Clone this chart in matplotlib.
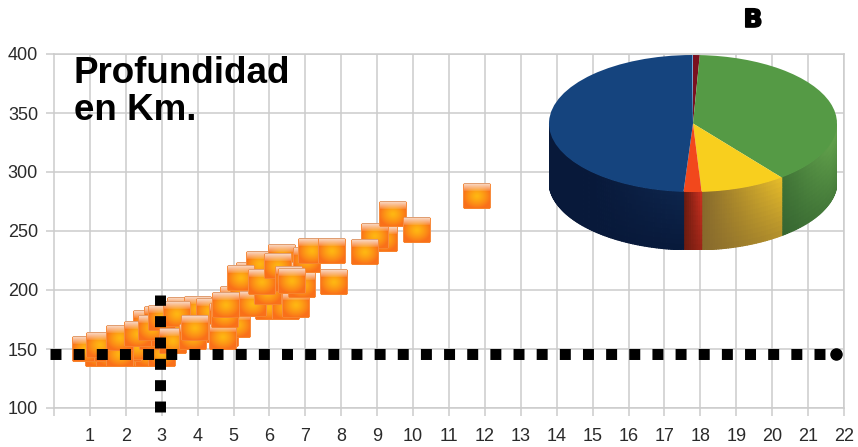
import numpy as np
import matplotlib
matplotlib.use('Agg')
import matplotlib.pyplot as plt
import matplotlib.patheffects as pe
from matplotlib.collections import PolyCollection
from matplotlib.offsetbox import OffsetImage, AnnotationBbox

W, H = 858, 447

# depth scatter, in drawing order (later ones sit on top)
depth_x = [1.25, 1.55, 1.95, 2.3, 2.65, 3.0, 0.89, 1.5, 2.05, 2.35, 2.75, 2.6, 2.9, 3.1, 3.3,
           3.55, 4.0, 4.35, 4.15, 4.75, 5.1, 4.7, 5.0, 5.3, 5.6, 6.0, 6.45, 6.75, 6.9, 5.45,
           5.75, 5.2, 5.55, 5.95, 6.35, 6.6, 7.05, 7.8, 1.28, 1.84, 1.84, 2.34, 2.73, 3.0,
           3.42, 3.31, 3.87, 3.93, 4.7, 4.76, 4.8, 5.79, 6.24, 6.55, 6.63, 7.19, 7.74, 9.2,
           8.94, 8.65, 9.43, 10.1, 11.77]
depth_y = [146, 146, 146, 146, 146, 146, 150, 150, 150, 152, 160, 172, 175, 163, 170,
           183, 184, 182, 166, 163, 170, 178, 192, 197, 203, 186, 186, 187, 204, 213,
           222, 210, 188, 198, 228, 213, 225, 207, 153, 146, 159, 163, 168, 176,
           180, 157, 160, 168, 160, 179, 187, 207, 220, 209, 208, 233, 233, 243,
           246, 232, 264, 251, 280]

# pie shares, clockwise from the top
pie_values = [0.75, 38.7, 9.6, 2.0, 48.85, 0.1]
pie_colors = ['#7a1020', '#559a45', '#f8cf1e', '#f2481c', '#15447e', '#5b9bd5']
wall_light = ['#5a0c18', '#5f9e4a', '#e6bc2a', '#d03020', '#12305c', '#12305c']
wall_dark = ['#400810', '#2f5c2c', '#86692c', '#6e1c10', '#08193a', '#08193a']

# marker lines
guide_y = 145.8
guide_x = 2.95
guide_end = 21.78

x_ticks = list(range(1, 23))
y_ticks = [100, 150, 200, 250, 300, 350, 400]


def glossy_square(w=28, h=26):
    yy, xx = np.mgrid[0:h, 0:w]
    u = (xx - (w - 1) / 2) / (w / 2)
    v = (yy - (h - 1) / 2) / (h / 2)
    r = np.clip(np.sqrt(u**2 + (v * 1.05)**2) / 1.0, 0, 1)[..., None] ** 1.3
    inner = np.array([1.0, 0.72, 0.07])
    outer = np.array([0.98, 0.44, 0.10])
    img = inner * (1 - r) + outer * r
    # pale band along the top
    band = np.clip(1 - yy / 8.0, 0, 1)[..., None] ** 0.8
    img = img * (1 - band) + np.array([0.98, 0.86, 0.78]) * band
    img[0, :] = [0.88, 0.62, 0.45]
    img[:, 0] = [0.97, 0.55, 0.25]
    img[:, -1] = [0.97, 0.55, 0.25]
    img[-1, :] = [0.97, 0.52, 0.18]
    alpha = np.ones((h, w))
    for cy in (0, -1):
        for cx in (0, -1):
            alpha[cy, cx] = 0.2
    return np.dstack([img, alpha])


fig = plt.figure(figsize=(W / 100, H / 100), dpi=100)
plt.rcParams['font.family'] = ['Liberation Sans', 'DejaVu Sans']
ax = fig.add_axes([54 / W, 1 - 408 / H, (844 - 54) / W, (408 - 54) / H])
ax.set_xlim(0, 22)
ax.set_ylim(100, 400)
ax.set_xticks(x_ticks)
ax.set_yticks(y_ticks)
ax.grid(True, color='#cccccc', lw=1.1)
ax.set_axisbelow(True)
for s in ax.spines.values():
    s.set_color('#cccccc')
    s.set_linewidth(1.1)
ax.tick_params(color='#cccccc', width=1.1, length=5.5, labelsize=13, labelcolor='#2a2a2a', pad=6)
ax.xaxis.set_tick_params(pad=9)
ax.set_xticks([0], minor=True)
ax.tick_params(axis='x', which='minor', color='#cccccc', width=1.1, length=5.5)

icon = glossy_square()
for i, (px, py) in enumerate(zip(depth_x, depth_y)):
    box = AnnotationBbox(OffsetImage(icon, zoom=1, dpi_cor=False), (px, py), frameon=False,
                         pad=0, annotation_clip=False, zorder=3 + i * 0.001)
    ax.add_artist(box)

ax.plot([-0.1, 21.47], [guide_y, guide_y], color='black', lw=7.9, ls=(0, (1, 1.11)),
        dash_capstyle='butt', zorder=5, clip_on=False)
ax.plot([guide_x, guide_x], [96.2, 196], color='black', lw=7.9, ls=(0, (1, 0.945)),
        dash_capstyle='butt', zorder=5, clip_on=False)
ax.plot([guide_end], [guide_y], 'o', color='black', ms=8, zorder=5)

fig.text(74 / W, 1 - 83 / H, 'Profundidad', fontsize=26.5, fontweight='bold', color='black', va='baseline')
fig.text(74 / W, 1 - 120 / H, 'en Km.', fontsize=26.5, fontweight='bold', color='black', va='baseline')
fig.text(753 / W, 1 - 20 / H, 'B', fontsize=18, fontweight='bold', color='black', family='DejaVu Sans',
         ha='center', va='center', path_effects=[pe.withStroke(linewidth=1.2, foreground='black')])

# pie in its own axes, squashed and with a wall underneath
pie_top, pie_bottom, wall_bottom = 55, 192, 250
pie_ax = fig.add_axes([549 / W, 1 - wall_bottom / H, (837 - 549) / W, (wall_bottom - pie_top) / H])
depth = (wall_bottom - pie_bottom) / ((pie_bottom - pie_top) / 2)
edges = 90 - np.cumsum([0] + pie_values) * 360 / sum(pie_values)
polys, faces = [], []
levels = np.linspace(0, 1, 13)
for k in range(len(pie_values)):
    steps = np.linspace(edges[k], edges[k + 1], max(2, int(abs(edges[k + 1] - edges[k])) + 2))
    for a0, a1 in zip(steps[:-1], steps[1:]):
        if np.sin(np.radians((a0 + a1) / 2)) > 0:
            continue
        x0, x1 = np.cos(np.radians([a0, a1]))
        y0, y1 = np.sin(np.radians([a0, a1]))
        xm = (x0 + x1) / 2
        if k == 1:
            across = np.clip((xm - 0.6) / 0.35, 0, 1) * 0.7 + 0.3
        elif k == 2:
            across = np.clip((xm - 0.06) / 0.55, 0, 1)
        elif k == 3:
            across = np.clip((xm + 0.06) / 0.12, 0, 1)
        else:
            across = np.clip((xm + 0.7) / 0.7, 0, 1) * 0.6
        for d0, d1 in zip(levels[:-1], levels[1:]):
            mix = across * (1 - d0) if k == 4 else across * (1 - 0.55 * d0)
            c = np.array(matplotlib.colors.to_rgb(wall_dark[k])) * (1 - mix) \
                + np.array(matplotlib.colors.to_rgb(wall_light[k])) * mix
            polys.append([(x0, y0 - d0 * depth), (x1, y1 - d0 * depth),
                          (x1, y1 - d1 * depth), (x0, y0 - d1 * depth)])
            faces.append(c)
pie_ax.add_collection(PolyCollection(polys, facecolors=faces, edgecolors=faces, linewidths=0.9))
pie_ax.pie(pie_values, colors=pie_colors, startangle=90, counterclock=False, radius=1.0,
           wedgeprops={'linewidth': 0})
pie_ax.set_aspect('auto')
pie_ax.set_xlim(-1, 1)
pie_ax.set_ylim(-1 - depth, 1)
pie_ax.axis('off')

fig.savefig('out.png', dpi=100)
